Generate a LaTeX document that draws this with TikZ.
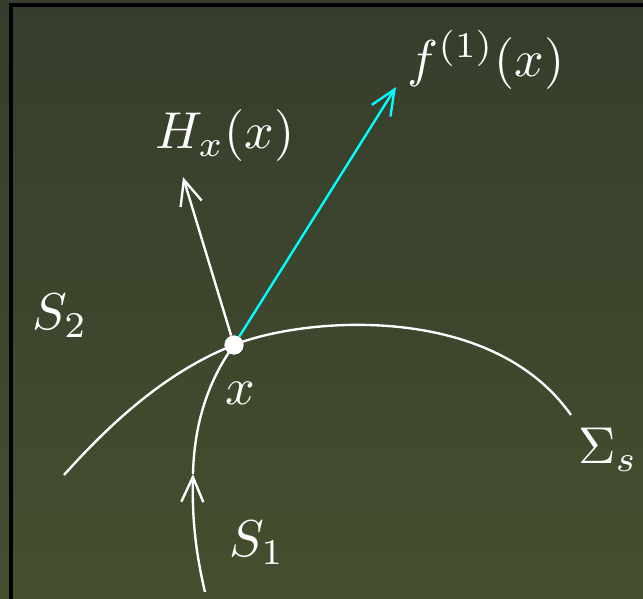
\documentclass[tikz,border=0pt]{standalone}
\usepackage{amsmath}
\usepackage{xcolor}
\usepackage{tikz}
\usetikzlibrary{
    positioning,
    arrows.meta
}

\definecolor{boardtop}{RGB}{54,61,44}
\definecolor{boardbot}{RGB}{68,79,46}
\definecolor{vecfield}{RGB}{0,255,255}

\begin{document}
\begin{tikzpicture}[
      x=0.02cm, y=-0.02cm,
      lbl/.style={text=white, inner sep=0pt, scale=2.95},
      curve/.style={draw=white, line width=1.35pt},
      arrow/.style={curve, -{Straight Barb[length=5mm, width=4.4mm]}},
      dot/.style={circle, fill=white, minimum size=0.38cm, inner sep=0pt}
    ]
    \shade[top color=boardtop, bottom color=boardbot] (0,0) rectangle (643,599);
    \useasboundingbox (0,0) rectangle (643,599);
    \draw[black, line width=2.2pt] (11,599) -- (11,5) -- (643,5);

    \node[dot] (x) at (234,345) {};
    \coordinate (hx) at (183,177);
    \coordinate (fx) at (396,87);
    \coordinate (s1mid) at (193,474);

    % surfaces
    \draw[curve] (64,475) .. controls (115,418) and (170,370) .. (x.center)
                 .. controls (300,318) and (490,300) .. (571,415);
    \draw[arrow] (205,592) .. controls (195,550) and (192,515) .. (s1mid);
    \draw[curve] (s1mid) .. controls (194,430) and (205,385) .. (x.center);

    % vectors
    \draw[arrow] (x) -- (hx);
    \draw[arrow, draw=vecfield] (x) -- (fx);
    \node[dot] at (x) {};

    \node[lbl] (hlbl) at (225,136) {$H_x(x)$};
    \node[lbl] (flbl) at (486,60) {$f^{(1)}(x)$};
    \node[lbl] (s2) at (60,316) {$S_2$};
    \node[lbl] (xlbl) at (240,393) {$x$};
    \node[lbl] (sigma) at (608,450) {$\Sigma_s$};
    \node[lbl] (s1) at (257,543) {$S_1$};
  \end{tikzpicture}
\end{document}
